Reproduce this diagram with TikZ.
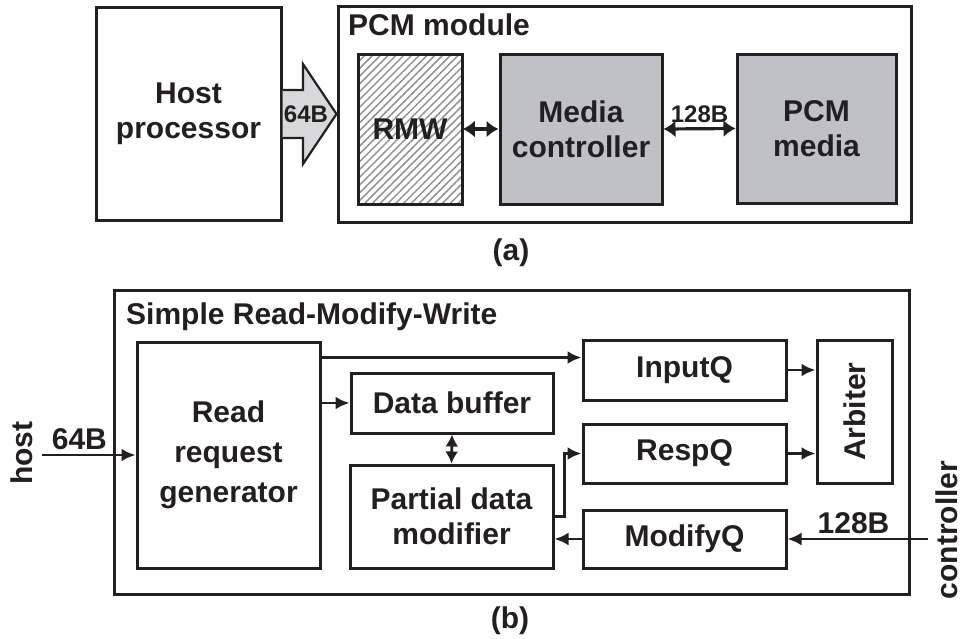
\documentclass[tikz,border=0pt]{standalone}
\usepackage{fontspec}
\setmainfont{Liberation Sans}
\usepackage{tikz}
\usetikzlibrary{arrows.meta, positioning, calc, patterns.meta}
\definecolor{boxgray}{RGB}{192,193,197}
\definecolor{arrowgray}{RGB}{216,216,218}
\definecolor{inkdark}{RGB}{35,31,32}

\begin{document}
\begin{tikzpicture}[x=1pt, y=-1pt,
    every node/.style={font=\fontsize{30}{35}\selectfont\bfseries, text=inkdark},
    blk/.style={draw=inkdark, line width=3pt, align=center, inner sep=0pt},
    gblk/.style={blk, fill=boxgray},
    arr/.style={draw=inkdark, line width=2.8pt, -{Latex[length=14pt,width=13pt]}},
    darr/.style={draw=inkdark, line width=3.2pt, {Latex[length=12pt,width=17pt]}-{Latex[length=12pt,width=17pt]}},
    vdarr/.style={draw=inkdark, line width=2.8pt, {Latex[length=12pt,width=13pt]}-{Latex[length=12pt,width=13pt]}},
    smalllbl/.style={font=\fontsize{24}{28}\selectfont\bfseries}]
    \useasboundingbox (0,0) rectangle (966,638);

    % (a) Host processor and PCM module
    \node[blk, minimum width=185pt, minimum height=213pt] (host) at (188.5,113.5) {Host\\processor};
    \node[blk, minimum width=573pt, minimum height=216pt] (pcm) at (624.5,114) {};
    \node[anchor=base west, inner sep=0pt] (pcmlbl) at (348,35) {PCM module};

    % Blocks inside the module
    \node[blk, pattern={Lines[angle=45,distance=5.5pt,line width=1.5pt]}, pattern color=gray!85,
          minimum width=104pt, minimum height=150pt] (rmw) at (410,129) {RMW};
    \node[gblk, minimum width=162pt, minimum height=150pt] (ctrl) at (581,129) {Media\\controller};
    \node[gblk, minimum width=159pt, minimum height=149pt] (media) at (816.5,128.5) {PCM\\media};

    % Wide host arrow
    \draw[draw=inkdark, line width=2.2pt, fill=arrowgray]
        (host.east |- 0,90) -- (303,90) -- (303,64) -- (pcm.west |- 0,114)
        -- (303,164) -- (303,138) -- (host.east |- 0,138);
    \node[smalllbl, inner sep=0pt] (lbla) at (306,114) {64B};

    % Module links
    \draw[darr] (rmw.east) -- (ctrl.west);
    \draw[darr] (ctrl.east) -- node[smalllbl, above=1pt] (lblb) {128B} (media.west);

    \node (capa) at (511,253) {(a)};

    % (b) Simple Read-Modify-Write
    \node[blk, minimum width=795pt, minimum height=304pt] (rmwbox) at (511.5,442) {};
    \node[anchor=base west, inner sep=0pt] (rmwlbl) at (126,324) {Simple Read-Modify-Write};

    \node[blk, font=\fontsize{30}{40}\selectfont\bfseries, minimum width=183pt, minimum height=226pt]
        (rrg) at (228.5,455) {Read\\request\\generator};
    \node[blk, minimum width=202pt, minimum height=60pt] (databuf) at (452,403) {Data buffer};
    \node[blk, minimum width=203pt, minimum height=103pt] (pdm) at (451.5,516.5) {Partial data\\modifier};
    \node[blk, minimum width=203pt, minimum height=60pt] (inputq) at (684.5,370) {InputQ};
    \node[blk, minimum width=203pt, minimum height=59pt] (respq) at (684.5,453.5) {RespQ};
    \node[blk, minimum width=203pt, minimum height=58pt] (modifyq) at (684.5,539) {ModifyQ};
    \node[blk, minimum width=75pt, minimum height=143pt] (arbiter) at (854.5,411.5) {\rotatebox{90}{Arbiter}};

    % Data paths
    \coordinate (rrgtop) at ([yshift=-17pt]rrg.north east);
    \draw[arr] (rrgtop) -- (rrgtop -| inputq.west);
    \draw[arr] (rrg.east |- databuf.west) -- (databuf.west);
    \draw[vdarr] (databuf.south) -- (pdm.north);
    \draw[arr] (pdm.east) -- ++(10,0) |- (respq.west);
    \draw[arr] (modifyq.west) -- (pdm.east |- modifyq.west);
    \foreach \q in {inputq,respq}
        \draw[arr] (\q.east) -- (arbiter.west |- \q.east);

    % External ports
    \coordinate (hostin) at (42,455);
    \draw[arr] (hostin) -- node[pos=0.4, above=0pt] (lblc) {64B} (rrg.west);
    \node[rotate=90] (hostlbl) at (22,453) {host};
    \coordinate (ctrlin) at (928,539);
    \draw[arr] (ctrlin) -- node[pos=0.53, above=0pt] (lbld) {128B} (modifyq.east);
    \node[rotate=90, inner sep=0pt] (ctrllbl) at (947,530) {controller};

    \node (capb) at (510,621) {(b)};
\end{tikzpicture}
\end{document}
